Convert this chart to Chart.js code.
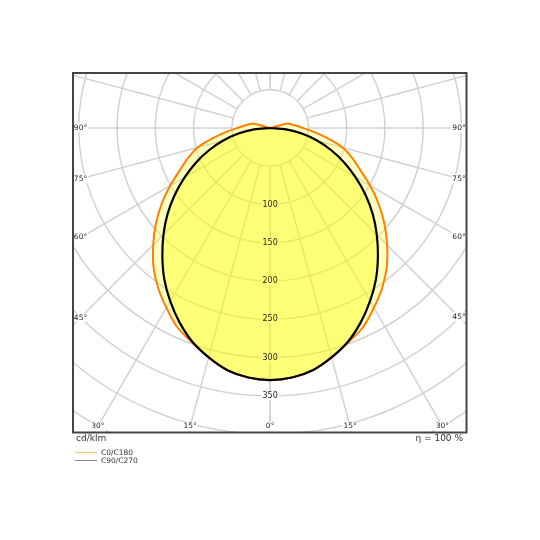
<!DOCTYPE html>
<html lang="en">
<head>
    <meta charset="UTF-8">
    <title>Light distribution</title>
    <script src="https://cdn.jsdelivr.net/npm/chart.js"></script>
    <style>
        body { margin: 0; background: #fff; font-family: "DejaVu Sans", sans-serif; }
        #wrap { position: relative; width: 540px; height: 540px; }
        .note { position: absolute; color: #333; white-space: nowrap; }
        .key { position: absolute; left: 75px; font-size: 7.5px; color: #333; display: flex; align-items: center; }
        .key span.line { display: inline-block; width: 22px; height: 1px; margin-right: 4px; }
    </style>
</head>
<body>
<div id="wrap">
    <canvas id="ldc"></canvas>
    <div class="note" style="left:76px; top:433px; font-size:9px;">cd/klm</div>
    <div class="note" style="right:77px; top:433px; font-size:9px;">η = 100 %</div>
    <div class="key" style="top:448px;"><span class="line" style="background:#ffc070"></span>C0/C180</div>
    <div class="key" style="top:456px;"><span class="line" style="background:#888"></span>C90/C270</div>
</div>

<script>
    // gamma angles (deg from nadir) and intensities in cd/klm
    const gammaAngles = [0, 5, 10, 15, 20, 25, 30, 35, 40, 45, 50, 55, 60, 65, 70, 75, 80, 85, 90,
                         95, 100, 105, 110, 115, 120, 125, 130, 135, 140, 145, 150, 155, 160, 165, 170, 175, 180];
    const c0c180 = [329, 327, 321, 310, 298, 287, 271, 255, 237, 216, 195, 173, 151, 130, 114, 98, 76, 57, 43,
                    34, 28, 23, 0, 0, 0, 0, 0, 0, 0, 0, 0, 0, 0, 0, 0, 0, 0];
    const c90c270 = [329, 327, 321, 310, 297, 280, 261, 241, 219, 197, 175, 152, 129, 107, 85, 64, 42, 21, 0,
                     0, 0, 0, 0, 0, 0, 0, 0, 0, 0, 0, 0, 0, 0, 0, 0, 0, 0];
    const ringValues = [50, 100, 150, 200, 250, 300, 350, 400, 450, 500];
    const ringLabels = [100, 150, 200, 250, 300, 350];
    const spokeAngles = [0, 15, 30, 45, 60, 75, 90, 105, 120, 135, 150, 165, 180];
    const angleLabels = [0, 15, 30, 45, 60, 75, 90];

    // polar (gamma, I) -> x/y in cd/klm, y pointing down
    function toShape(values) {
        const pts = [];
        for (let i = gammaAngles.length - 1; i >= 0; i--) {
            const a = gammaAngles[i] * Math.PI / 180;
            pts.push({ x: values[i] * Math.sin(a), y: values[i] * Math.cos(a) });
        }
        for (let i = 1; i < gammaAngles.length; i++) {
            const a = gammaAngles[i] * Math.PI / 180;
            pts.push({ x: -values[i] * Math.sin(a), y: values[i] * Math.cos(a) });
        }
        return pts;
    }

    // where each label goes, in pixels
    function labelSpots(chart) {
        const { chartArea: ca, scales: { x, y } } = chart;
        const cx = x.getPixelForValue(0), cy = y.getPixelForValue(0);
        const k = x.getPixelForValue(100) - cx;
        const spots = [];
        ringLabels.forEach(r => spots.push({ text: String(r), x: cx, y: cy + r * k / 100, font: 8 }));
        angleLabels.forEach(g => {
            const a = g * Math.PI / 180;
            [1, -1].forEach(s => {
                if (g === 0 && s === -1) return;
                let lx, ly;
                const by = ca.bottom - 6;
                const bx = cx + s * Math.tan(a) * (by - cy);
                if (g < 90 && bx > ca.left + 8 && bx < ca.right - 8) {
                    lx = bx; ly = by;
                } else {
                    lx = s > 0 ? ca.right - 7.5 : ca.left + 7.5;
                    ly = g === 90 ? cy : cy + Math.abs(lx - cx) / Math.tan(a);
                }
                spots.push({ text: g + '°', x: lx, y: ly, font: 7.5 });
            });
        });
        return spots;
    }

    const polarGrid = {
        id: 'polarGrid',
        beforeDatasetsDraw(chart) {
            const { ctx, chartArea: ca, scales: { x, y } } = chart;
            const cx = x.getPixelForValue(0), cy = y.getPixelForValue(0);
            const k = x.getPixelForValue(100) - cx; // px per 100 cd/klm
            ctx.save();
            ctx.beginPath();
            ctx.rect(ca.left, ca.top, ca.width, ca.height);
            ctx.clip();
            ctx.strokeStyle = '#d2d2d2';
            ctx.lineWidth = 1.5;
            ringValues.forEach(r => {
                ctx.beginPath();
                ctx.arc(cx, cy, r * k / 100, 0, Math.PI * 2);
                ctx.stroke();
            });
            spokeAngles.forEach(g => {
                const a = g * Math.PI / 180;
                [1, -1].forEach(s => {
                    ctx.beginPath();
                    ctx.moveTo(cx + s * Math.sin(a) * 0.5 * k, cy + Math.cos(a) * 0.5 * k);
                    ctx.lineTo(cx + s * Math.sin(a) * 6 * k, cy + Math.cos(a) * 6 * k);
                    ctx.stroke();
                });
            });
            // white boxes under the labels, the fill tints them later
            ctx.fillStyle = '#fff';
            ctx.textBaseline = 'middle';
            labelSpots(chart).forEach(l => {
                ctx.font = l.font + 'px "DejaVu Sans"';
                const w = ctx.measureText(l.text).width;
                ctx.fillRect(l.x - w / 2 - 1, l.y - 4.5, w + 2, 9);
            });
            ctx.restore();
        },
        afterDatasetsDraw(chart) {
            const { ctx } = chart;
            ctx.save();
            ctx.fillStyle = '#222';
            ctx.textAlign = 'center';
            ctx.textBaseline = 'middle';
            labelSpots(chart).forEach(l => {
                ctx.font = l.font + 'px "DejaVu Sans"';
                ctx.fillText(l.text, l.x, l.y);
            });
            ctx.restore();
        },
        afterDraw(chart) {
            const { ctx, chartArea: ca } = chart;
            ctx.save();
            ctx.strokeStyle = '#444';
            ctx.lineWidth = 2;
            ctx.strokeRect(ca.left, ca.top, ca.width, ca.height);
            ctx.restore();
        }
    };

    new Chart(document.getElementById('ldc'), {
        type: 'scatter',
        data: {
            datasets: [
                {
                    label: 'C90/C270',
                    data: toShape(c90c270),
                    showLine: true,
                    borderColor: '#000',
                    borderWidth: 2.2,
                    backgroundColor: 'rgba(255,255,0,0.38)',
                    fill: 'shape',
                    pointRadius: 0,
                    tension: 0.3
                },
                {
                    label: 'C0/C180',
                    data: toShape(c0c180),
                    showLine: true,
                    borderColor: '#ff8000',
                    borderWidth: 2,
                    backgroundColor: 'rgba(255,255,0,0.25)',
                    fill: 'shape',
                    pointRadius: 0,
                    tension: 0.3
                }
            ]
        },
        options: {
            responsive: true,
            maintainAspectRatio: false,
            animation: false,
            layout: { padding: { left: 73, top: 73, right: 73.5, bottom: 107.5 } },
            scales: {
                x: { type: 'linear', display: false, min: -257.5, max: 256.5 },
                y: { type: 'linear', display: false, reverse: true, min: -71.8, max: 397.5 }
            },
            plugins: {
                legend: { display: false },
                tooltip: { enabled: false }
            }
        },
        plugins: [polarGrid]
    });
</script>
</body>
</html>
